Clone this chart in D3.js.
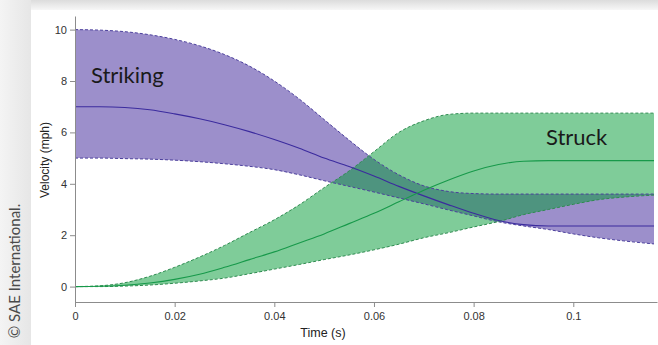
<!DOCTYPE html>
<html>
<head>
<meta charset="utf-8">
<script src="https://cdn.jsdelivr.net/npm/d3@7"></script>
<style>
  html, body { margin: 0; padding: 0; background: #fff; }
  svg { display: block; }
</style>
</head>
<body>
<div id="chart"></div>
<script>
// time samples (s)
const times = [0, 0.005, 0.01, 0.015, 0.02, 0.025, 0.03, 0.035, 0.04, 0.045, 0.05, 0.055,
  0.06, 0.065, 0.07, 0.075, 0.08, 0.085, 0.09, 0.095, 0.1, 0.105, 0.11, 0.1162];

// striking vehicle velocity (mph)
const strikingUpper = [10, 9.98, 9.92, 9.8, 9.62, 9.37, 9.03, 8.58, 8.0, 7.3, 6.5, 5.7,
  4.95, 4.35, 3.92, 3.7, 3.62, 3.6, 3.6, 3.6, 3.6, 3.6, 3.6, 3.6];
const strikingMean = [7, 7, 6.97, 6.88, 6.72, 6.53, 6.3, 6.03, 5.72, 5.38, 5.0, 4.67,
  4.3, 3.9, 3.53, 3.18, 2.85, 2.57, 2.41, 2.36, 2.36, 2.36, 2.36, 2.36];
const strikingLower = [5, 5, 4.98, 4.96, 4.92, 4.86, 4.78, 4.68, 4.55, 4.35, 4.12, 3.9,
  3.68, 3.45, 3.22, 2.98, 2.75, 2.52, 2.36, 2.22, 2.05, 1.9, 1.78, 1.66];

// struck vehicle velocity (mph)
const struckUpper = [0, 0.03, 0.15, 0.4, 0.75, 1.15, 1.6, 2.1, 2.6, 3.18, 3.85, 4.5,
  5.25, 6.0, 6.45, 6.7, 6.75, 6.75, 6.75, 6.75, 6.75, 6.75, 6.75, 6.75];
const struckMean = [0, 0.01, 0.05, 0.14, 0.28, 0.48, 0.75, 1.05, 1.35, 1.7, 2.05, 2.45,
  2.85, 3.3, 3.75, 4.15, 4.5, 4.75, 4.88, 4.9, 4.9, 4.9, 4.9, 4.9];
const struckLower = [0, 0, 0.02, 0.06, 0.13, 0.22, 0.33, 0.5, 0.68, 0.86, 1.05, 1.23,
  1.43, 1.65, 1.9, 2.1, 2.32, 2.53, 2.8, 3.0, 3.2, 3.38, 3.48, 3.56];

const xTicks = [0, 0.02, 0.04, 0.06, 0.08, 0.1];
const yTicks = [0, 2, 4, 6, 8, 10];

const width = 658, height = 345;

const svg = d3.select("#chart").append("svg")
    .attr("width", width)
    .attr("height", height);

// page background / card shadow
const defs = svg.append("defs");
const grad = defs.append("linearGradient").attr("id", "topShade")
    .attr("x1", 0).attr("y1", 0).attr("x2", 0).attr("y2", 1);
grad.append("stop").attr("offset", "0%").attr("stop-color", "#dcdcdc");
grad.append("stop").attr("offset", "100%").attr("stop-color", "#f7f7f7");
const lgrad = defs.append("linearGradient").attr("id", "leftShade")
    .attr("x1", 0).attr("y1", 0).attr("x2", 1).attr("y2", 0);
lgrad.append("stop").attr("offset", "0%").attr("stop-color", "#f4f4f4");
lgrad.append("stop").attr("offset", "100%").attr("stop-color", "#e6e6e6");

svg.append("rect").attr("width", width).attr("height", height).attr("fill", "#efefef");
svg.append("rect").attr("x", 0).attr("y", 0).attr("width", 31).attr("height", height)
    .attr("fill", "url(#leftShade)");
svg.append("rect").attr("x", 31).attr("y", 0).attr("width", width - 31).attr("height", 10)
    .attr("fill", "url(#topShade)");
svg.append("rect").attr("x", 31).attr("y", 10).attr("width", width - 31).attr("height", height - 10)
    .attr("fill", "#ffffff");

svg.append("text")
    .attr("transform", "translate(20,271) rotate(-90)")
    .attr("text-anchor", "middle")
    .attr("font-family", "Lato, 'Open Sans', sans-serif")
    .attr("font-size", "15px")
    .attr("fill", "#4a4a4a")
    .text("© SAE International.");

// scales
const x = d3.scaleLinear().domain([0, 0.1168]).range([75, 657]);
const y = d3.scaleLinear().domain([-0.6, 10.53]).range([302, 16]);

const rows = times.map((t, i) => ({
  t: t,
  sU: strikingUpper[i], sM: strikingMean[i], sL: strikingLower[i],
  kU: struckUpper[i], kM: struckMean[i], kL: struckLower[i]
}));

const curve = d3.curveMonotoneX;
const band = (lo, hi) => d3.area().curve(curve)
    .x(d => x(d.t)).y0(d => y(d[lo])).y1(d => y(d[hi]));
const line = key => d3.line().curve(curve).x(d => x(d.t)).y(d => y(d[key]));

// striking band
svg.append("path").datum(rows)
    .attr("d", band("sL", "sU"))
    .attr("fill", "#9c8fcb");

// struck band (semi transparent so the overlap darkens)
svg.append("path").datum(rows)
    .attr("d", band("kL", "kU"))
    .attr("fill", "#009933")
    .attr("fill-opacity", 0.5);

// dashed bounds
[["sU", "#4b3f9c"], ["sL", "#4b3f9c"], ["kU", "#2e8b50"], ["kL", "#2e8b50"]].forEach(p => {
  svg.append("path").datum(rows)
      .attr("d", line(p[0]))
      .attr("fill", "none")
      .attr("stroke", p[1])
      .attr("stroke-width", 1)
      .attr("stroke-dasharray", "3,2");
});

// mean lines
svg.append("path").datum(rows)
    .attr("d", line("sM"))
    .attr("fill", "none")
    .attr("stroke", "#3b2b9e")
    .attr("stroke-width", 1.1);
svg.append("path").datum(rows)
    .attr("d", line("kM"))
    .attr("fill", "none")
    .attr("stroke", "#17994a")
    .attr("stroke-width", 1.1);

// axes
const xAxis = svg.append("g")
    .attr("transform", "translate(0,302)")
    .call(d3.axisBottom(x).tickValues(xTicks).tickFormat(d3.format("~g")).tickSize(5).tickSizeOuter(0));
const yAxis = svg.append("g")
    .attr("transform", "translate(75,0)")
    .call(d3.axisLeft(y).tickValues(yTicks).tickSize(5).tickSizeOuter(0));

[xAxis, yAxis].forEach(a => {
  a.select(".domain").attr("stroke", "#8c8c8c");
  a.selectAll(".tick line").attr("stroke", "#8c8c8c");
  a.selectAll(".tick text")
      .attr("fill", "#333")
      .attr("font-family", "'Liberation Sans', Arial, sans-serif")
      .attr("font-size", "11px");
});
xAxis.selectAll(".tick text").attr("dy", "0.95em");

svg.append("text")
    .attr("x", 323).attr("y", 337)
    .attr("text-anchor", "middle")
    .attr("font-family", "'Liberation Sans', Arial, sans-serif")
    .attr("font-size", "12.5px")
    .attr("fill", "#222")
    .text("Time (s)");

svg.append("text")
    .attr("transform", "translate(49,160) rotate(-90)")
    .attr("text-anchor", "middle")
    .attr("font-family", "'Liberation Sans', Arial, sans-serif")
    .attr("font-size", "12px")
    .attr("fill", "#222")
    .text("Velocity (mph)");

// series labels
svg.append("text")
    .attr("x", 91).attr("y", 83)
    .attr("font-family", "Lato, 'Open Sans', sans-serif")
    .attr("font-size", "22px")
    .attr("fill", "#1a1a1a")
    .text("Striking");
svg.append("text")
    .attr("x", 546).attr("y", 145)
    .attr("font-family", "Lato, 'Open Sans', sans-serif")
    .attr("font-size", "22px")
    .attr("fill", "#1a1a1a")
    .text("Struck");
</script>
</body>
</html>
